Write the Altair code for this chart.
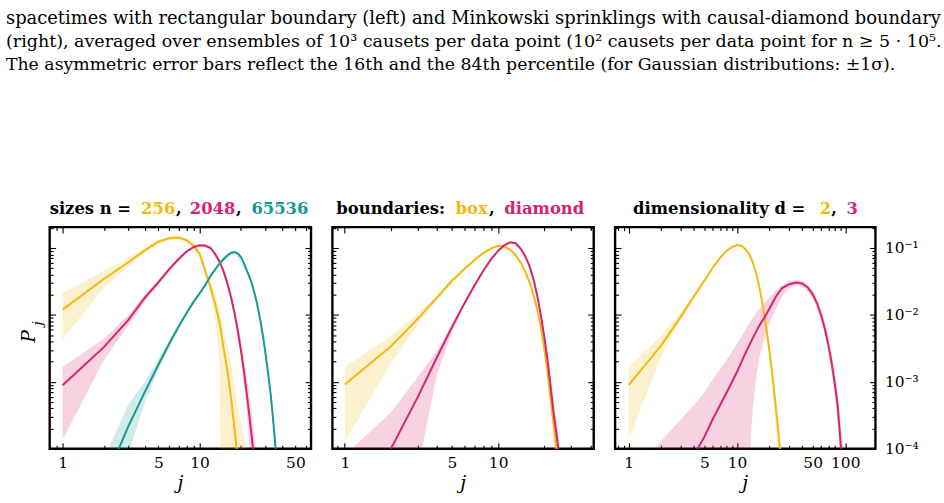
import altair as alt
import pandas as pd

# ---------------------------------------------------------------------------
# P_j distributions (median line and 16th/84th percentile band)
# ---------------------------------------------------------------------------

# panel 1 -- sizes n
j_n256 = list(range(1, 20))
p_n256 = [0.0120, 0.0344, 0.0607, 0.093, 0.124, 0.140, 0.143, 0.131, 0.110, 0.082,
          0.045, 0.026, 0.0145, 0.0075, 0.0031, 0.0014, 0.00055, 0.00019, 0.00007]
bj_n256 = list(range(1, 24))
lo_n256 = [0.0043, 0.0257, 0.052, 0.085, 0.116, 0.132, 0.135, 0.122, 0.101, 0.072,
           0.039, 0.020, 0.009, 0.0017, 0, 0, 0, 0, 0, 0, 0, 0, 0]
hi_n256 = [0.021, 0.0457, 0.070, 0.101, 0.133, 0.150, 0.152, 0.140, 0.120, 0.092,
           0.055, 0.033, 0.020, 0.012, 0.0060, 0.0032, 0.0018, 0.0009, 0.00045, 0.00025,
           0.00015, 0.0001, 0.00005]

j_n2048 = list(range(1, 26))
p_n2048 = [0.00089, 0.0033, 0.0083, 0.0183, 0.0306, 0.0484, 0.068, 0.088, 0.103, 0.110,
           0.109, 0.100, 0.081, 0.062, 0.044, 0.029, 0.018, 0.0105, 0.0058, 0.0030,
           0.0015, 0.0007, 0.00033, 0.00015, 0.00007]
bj_n2048 = [1, 2, 3, 4, 5, 6, 8, 10, 12, 14, 16, 18, 20, 21, 22, 23, 24, 25, 26, 27]
lo_n2048 = [0.000136, 0.0021, 0.0068, 0.0160, 0.0280, 0.045, 0.084, 0.105, 0.095, 0.058,
            0.026, 0.0088, 0.0023, 0.0010, 0.0004, 0.00012, 0, 0, 0, 0]
hi_n2048 = [0.00167, 0.0044, 0.0098, 0.0205, 0.0335, 0.052, 0.092, 0.115, 0.105, 0.066,
            0.032, 0.0125, 0.0042, 0.0024, 0.0013, 0.0007, 0.00035, 0.00018, 0.00009, 0.00004]

j_n65536 = list(range(2, 38))
p_n65536 = [0.00003, 0.00021, 0.00072, 0.0018, 0.0037, 0.0066, 0.0105, 0.0155, 0.021, 0.028,
            0.038, 0.048, 0.059, 0.069, 0.078, 0.085, 0.087, 0.083, 0.073, 0.060,
            0.047, 0.038, 0.030, 0.022, 0.016, 0.011, 0.0075, 0.0048, 0.0030, 0.0018,
            0.0011, 0.00065, 0.00035, 0.00018, 0.00009, 0.00004]
bj_n65536 = [2, 3, 4, 5, 6, 8, 10, 14, 18, 22, 26, 30, 33, 35, 37]
lo_n65536 = [0, 0.00008, 0.0005, 0.0015, 0.0033, 0.0098, 0.020, 0.057, 0.084, 0.045,
             0.015, 0.0027, 0.00055, 0.00014, 0.00003]
hi_n65536 = [0.00007, 0.00045, 0.0010, 0.0022, 0.0042, 0.0113, 0.0222, 0.061, 0.090, 0.049,
             0.017, 0.0033, 0.00075, 0.00022, 0.00006]

# panel 2 -- boundaries
j_box = list(range(1, 26))
p_box = [0.00091, 0.0034, 0.0088, 0.0183, 0.0324, 0.048, 0.066, 0.084, 0.099, 0.108,
         0.106, 0.094, 0.078, 0.061, 0.045, 0.031, 0.020, 0.012, 0.0066, 0.0031,
         0.0014, 0.00055, 0.00024, 0.0001, 0.00004]
bj_box = [1, 2, 3, 4, 5, 6, 8, 10, 12, 14, 16, 18, 20, 21, 22, 23, 24, 25]
lo_box = [0.000128, 0.0019, 0.0072, 0.0165, 0.030, 0.045, 0.080, 0.103, 0.090, 0.058,
          0.029, 0.0105, 0.0024, 0.0010, 0.00035, 0.0001, 0.00003, 0]
hi_box = [0.00167, 0.0049, 0.0105, 0.0202, 0.035, 0.051, 0.088, 0.112, 0.098, 0.064,
          0.033, 0.0135, 0.0038, 0.0019, 0.0008, 0.0004, 0.00018, 0.00008]

j_dia = list(range(2, 26))
p_dia = [0.0001, 0.0006, 0.00235, 0.0066, 0.0146, 0.0274, 0.0457, 0.068, 0.091, 0.111,
         0.122, 0.118, 0.098, 0.076, 0.054, 0.034, 0.0194, 0.0098, 0.0047, 0.0021,
         0.00084, 0.00034, 0.00017, 0.00008]
bj_dia = [1, 2, 3, 4, 5, 6, 8, 10, 12, 14, 16, 18, 20, 21, 22, 23, 24, 25, 26]
lo_dia = [0, 0, 0.00005, 0.0013, 0.0055, 0.0135, 0.044, 0.088, 0.118, 0.094,
          0.051, 0.0178, 0.0040, 0.0017, 0.0006, 0.0002, 0.00006, 0, 0]
hi_dia = [0.00008, 0.00035, 0.0012, 0.0029, 0.0074, 0.0156, 0.0475, 0.094, 0.126, 0.102,
          0.057, 0.021, 0.0055, 0.0026, 0.0011, 0.00055, 0.00026, 0.00012, 0.00005]

# panel 3 -- dimensionality d
j_d2 = list(range(1, 27))
p_d2 = [0.00089, 0.0035, 0.0092, 0.0188, 0.0324, 0.051, 0.072, 0.090, 0.104, 0.111,
        0.108, 0.096, 0.081, 0.061, 0.043, 0.0274, 0.0164, 0.0092, 0.0052, 0.0028,
        0.0015, 0.00075, 0.00038, 0.00019, 0.0001, 0.00005]
bj_d2 = [1, 2, 3, 4, 5, 6, 8, 10, 12, 14, 16, 18, 20, 22, 23, 24, 25, 26]
lo_d2 = [0.000137, 0.0024, 0.0080, 0.0172, 0.030, 0.048, 0.087, 0.107, 0.092, 0.058,
         0.025, 0.0078, 0.0021, 0.0004, 0.00015, 0.00005, 0, 0]
hi_d2 = [0.00167, 0.0049, 0.0108, 0.0205, 0.035, 0.054, 0.094, 0.115, 0.100, 0.064,
         0.030, 0.0108, 0.0036, 0.0011, 0.0006, 0.0003, 0.00015, 0.00008]

j_d3 = [4, 5, 6, 7, 8, 10, 12, 14, 16, 18, 20, 23, 26, 30, 35, 40, 45, 50, 55, 60,
        65, 70, 75, 80, 85, 90, 95]
p_d3 = [0.00008, 0.00015, 0.00028, 0.00045, 0.00068, 0.0014, 0.0027, 0.0045, 0.0068, 0.0092,
        0.0125, 0.019, 0.025, 0.0285, 0.0305, 0.0295, 0.0258, 0.0205, 0.0148, 0.0098,
        0.0061, 0.0035, 0.0019, 0.00095, 0.00045, 0.00014, 0.00005]
bj_d3 = [1, 2, 3, 4, 5, 6, 8, 10, 12, 13, 14, 15, 16, 18, 20, 23, 26, 30, 35, 40,
         45, 50, 55, 60, 65, 70, 75, 80, 85, 90, 95, 100]
lo_d3 = [0, 0, 0, 0, 0, 0, 0, 0, 0, 0.00006, 0.0004, 0.0011, 0.0022, 0.0045, 0.0075,
         0.0125, 0.0185, 0.0245, 0.0275, 0.0265, 0.0225, 0.0175, 0.0125, 0.0081, 0.0048,
         0.0026, 0.0013, 0.0006, 0.00025, 0.00006, 0, 0]
hi_d3 = [0.00003, 0.00013, 0.00027, 0.00045, 0.0007, 0.0011, 0.0021, 0.0037, 0.0060, 0.0075,
         0.0090, 0.0106, 0.0122, 0.0150, 0.0185, 0.0235, 0.0275, 0.032, 0.0335, 0.0325,
         0.029, 0.0235, 0.0172, 0.0118, 0.0076, 0.0046, 0.0027, 0.0014, 0.0007, 0.00028,
         0.00012, 0.00005]

# axis ticks and labels
y_major = [1e-4, 1e-3, 1e-2, 1e-1]
y_minor = [m * d for d in (1e-4, 1e-3, 1e-2) for m in range(2, 10)] + [0.2]
y_labels = [1e-1, 1e-2, 1e-3, 1e-4]

caption_lines = [
    "spacetimes with rectangular boundary (left) and Minkowski sprinklings with causal-diamond boundary",
    "(right), averaged over ensembles of 10\u00b3 causets per data point (10\u00b2 causets per data point for n \u2265 5 \u00b7 10\u2075.",
    "The asymmetric error bars reflect the 16th and the 84th percentile (for Gaussian distributions: \u00b11\u03c3).",
]
caption_sizes = [18.0, 17.6, 17.4]

# ---------------------------------------------------------------------------
FONT = "DejaVu Serif"
YELLOW, PINK, TEAL = "#F2B90F", "#D6246E", "#139A94"
Y_DOMAIN = [1e-4, 0.205]
FLOOR = 1e-9          # stand-in for a zero percentile on the log axis
PANEL_H = 223
TITLE_SIZE = 16.5
ONE = pd.DataFrame({"k": [0]})


def line_frame(series):
    rows = []
    for name, js, ps in series:
        rows += [{"series": name, "j": j, "p": p} for j, p in zip(js, ps)]
    return pd.DataFrame(rows)


def band_frame(series):
    rows = []
    for name, js, los, his in series:
        rows += [{"series": name, "j": j, "lo": max(lo, FLOOR), "hi": hi}
                 for j, lo, hi in zip(js, los, his)]
    return pd.DataFrame(rows)


def tick_axis(orient, values, size):
    # ticks drawn inward from the frame edge
    return alt.Axis(orient=orient, values=values, tickSize=size, offset=-size,
                    labels=False, domain=False, grid=False, title=None,
                    tickColor="black", tickWidth=1.1)


def text(t, x, y, color="black", size=15.5, weight="normal", style="normal",
         align="left", baseline="alphabetic", angle=0):
    return alt.Chart(ONE).mark_text(
        text=t, align=align, baseline=baseline, fontSize=size, fontWeight=weight,
        fontStyle=style, font=FONT, color=color, angle=angle,
    ).encode(x=alt.value(x), y=alt.value(y))


def panel(width, xdomain, lines, bands, names, colors, x_major, x_minor, x_labels,
          title_parts, right_labels=False, extra=()):
    xs = alt.Scale(type="log", domain=xdomain, nice=False)
    ys = alt.Scale(type="log", domain=Y_DOMAIN, nice=False)
    cs = alt.Scale(domain=names, range=colors)
    color = alt.Color("series:N", scale=cs, legend=None)

    label_axis = alt.Axis(orient="bottom", values=x_labels, ticks=False, domain=False,
                          grid=False, title=None, labelPadding=7, labelOverlap=False,
                          labelFlush=False, labelExpr="datum.value + ''")
    if right_labels:
        y_lab = alt.Axis(orient="right", values=y_labels, ticks=False, domain=False,
                         grid=False, title=None, labelPadding=9, labelOverlap=False,
                         labelFlush=False, labelAlign="left", labelBaseline="middle",
                         labelExpr="datum.value > 0.05 ? '10\u207b\u00b9' : datum.value > 0.005 ? '10\u207b\u00b2' : datum.value > 0.0005 ? '10\u207b\u00b3' : '10\u207b\u2074'")
    else:
        y_lab = None

    band = alt.Chart(bands).mark_area(opacity=0.2, clip=True).encode(
        x=alt.X("j:Q", scale=xs, axis=label_axis),
        y=alt.Y("lo:Q", scale=ys, axis=tick_axis("left", y_major, 6)),
        y2="hi:Q",
        color=color,
    )
    line = alt.Chart(lines).mark_line(strokeWidth=2, clip=True).encode(
        x=alt.X("j:Q", scale=xs, axis=tick_axis("bottom", x_major, 6)),
        y=alt.Y("p:Q", scale=ys, axis=tick_axis("left", y_minor, 3.5)),
        color=color,
    )

    def carrier(xa, ya):
        return alt.Chart(lines).mark_point(opacity=0, clip=True).encode(
            x=alt.X("j:Q", scale=xs, axis=xa), y=alt.Y("p:Q", scale=ys, axis=ya))

    c1 = carrier(tick_axis("bottom", x_minor, 3.5), tick_axis("right", y_major, 6))
    c2 = carrier(tick_axis("top", x_major, 6), tick_axis("right", y_minor, 3.5))
    c3 = carrier(tick_axis("top", x_minor, 3.5), y_lab)

    titles = [text(t, x, -13, color=c, size=TITLE_SIZE, weight="bold")
              for t, x, c in title_parts]
    jlab = text("j", width / 2, PANEL_H + 35, size=19, style="italic",
                align="center", baseline="middle")

    return alt.layer(band, line, c1, c2, c3, *titles, jlab, *extra).properties(
        width=width, height=PANEL_H
    ).resolve_axis(x="independent", y="independent")


# panel 1
p1 = panel(
    263, [0.805, 65],
    line_frame([("256", j_n256, p_n256), ("2048", j_n2048, p_n2048),
                ("65536", j_n65536, p_n65536)]),
    band_frame([("256", bj_n256, lo_n256, hi_n256), ("2048", bj_n2048, lo_n2048, hi_n2048),
                ("65536", bj_n65536, lo_n65536, hi_n65536)]),
    ["256", "2048", "65536"], [YELLOW, PINK, TEAL],
    [1, 10], [0.9, 2, 3, 4, 5, 6, 7, 8, 9, 20, 30, 40, 50, 60], [1, 5, 10, 50],
    [("sizes n =", 0, "black"), ("256", 92, YELLOW), (",", 127, "black"),
     ("2048", 141, PINK), (",", 187.5, "black"), ("65536", 203, TEAL)],
    extra=[
        text("P", -21, 110, size=19, style="italic", align="center", baseline="middle", angle=270),
        text("j", -12, 97, size=13, style="italic", align="center", baseline="middle", angle=270),
    ] + [text(t, -44, -204 + 23 * i, size=s)
         for i, (t, s) in enumerate(zip(caption_lines, caption_sizes))],
)

# panel 2
p2 = panel(
    263, [0.83, 42],
    line_frame([("box", j_box, p_box), ("diamond", j_dia, p_dia)]),
    band_frame([("box", bj_box, lo_box, hi_box), ("diamond", bj_dia, lo_dia, hi_dia)]),
    ["box", "diamond"], [YELLOW, PINK],
    [1, 10], [0.9, 2, 3, 4, 5, 6, 7, 8, 9, 20, 30, 40], [1, 5, 10],
    [("boundaries:", 4, "black"), ("box", 124, YELLOW), (",", 157.5, "black"),
     ("diamond", 173, PINK)],
)

# panel 3
p3 = panel(
    262, [0.75, 190],
    line_frame([("d2", j_d2, p_d2), ("d3", j_d3, p_d3)]),
    band_frame([("d2", bj_d2, lo_d2, hi_d2), ("d3", bj_d3, lo_d3, hi_d3)]),
    ["d2", "d3"], [YELLOW, PINK],
    [1, 10, 100], [0.8, 0.9, 2, 3, 4, 5, 6, 7, 8, 9, 20, 30, 40, 50, 60, 70, 80, 90],
    [1, 5, 10, 50, 100],
    [("dimensionality d =", 18, "black"), ("2", 206, YELLOW), (",", 217.5, "black"),
     ("3", 233, PINK)],
    right_labels=True,
)

chart = alt.hconcat(p1, p2, p3, spacing=21.5, bounds="flush").resolve_scale(
    color="independent"
).properties(
    padding={"left": 4, "top": 7, "right": 0, "bottom": 0}
).configure_view(
    stroke="black", strokeWidth=2.4
).configure_axis(
    labelFont=FONT, labelFontSize=15.5, labelColor="black"
)

chart.save("out.html", embed_options={"renderer": "svg", "actions": False})
